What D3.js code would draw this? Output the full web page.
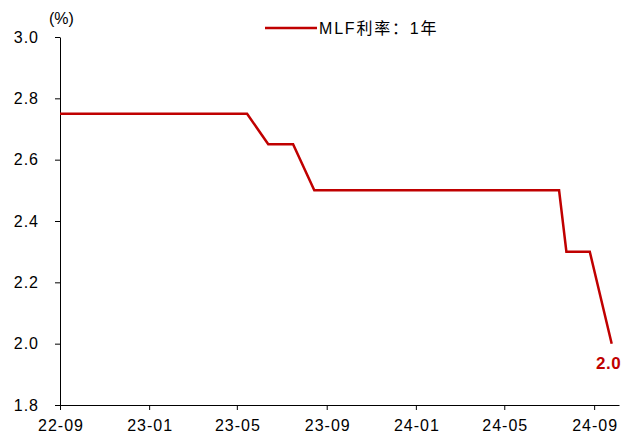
<!DOCTYPE html>
<html><head><meta charset="utf-8">
<script src="https://cdn.jsdelivr.net/npm/d3@7"></script>
<style>
body{margin:0;background:#fff;}
text{font-family:"Liberation Sans",Arial,"Noto Sans CJK SC",sans-serif;}
</style></head>
<body><svg id="c" width="632" height="437"></svg>
<script>
const dates = ["2022-09-01","2022-09-15","2022-10-17","2022-11-15","2022-12-15","2023-01-17","2023-02-15","2023-03-15","2023-04-17","2023-05-15","2023-06-13","2023-07-17","2023-08-15","2023-09-15","2023-10-16","2023-11-15","2023-12-15","2024-01-15","2024-02-18","2024-03-15","2024-04-15","2024-05-15","2024-06-17","2024-07-15","2024-07-25","2024-08-26","2024-09-25"];
const values = [2.75,2.75,2.75,2.75,2.75,2.75,2.75,2.75,2.75,2.75,2.65,2.65,2.5,2.5,2.5,2.5,2.5,2.5,2.5,2.5,2.5,2.5,2.5,2.5,2.3,2.3,2.0];
const xTickLabels = ["22-09","23-01","23-05","23-09","24-01","24-05","24-09"];
const yTicks = [1.8,2.0,2.2,2.4,2.6,2.8,3.0];
const seriesName = "MLF利率：1年";
const lastLabel = "2.0";

const parse = d3.timeParse("%Y-%m-%d");
const data = dates.map((d,i)=>({d:parse(d),v:values[i]}));
const svg = d3.select("#c");
const L=60,R=619,T=37,B=405;
const x = d3.scaleTime().domain([parse("2022-09-01"),parse("2024-10-05")]).range([L,R]);
const y = d3.scaleLinear().domain([1.8,3.0]).range([B,T]);
const red="#c00000";

const tickDates = xTickLabels.map(s=>d3.timeParse("%y-%m")(s));
const xAxis = d3.axisBottom(x).tickValues(tickDates).tickFormat(d3.timeFormat("%y-%m")).tickSizeInner(5).tickSizeOuter(0).tickPadding(10);
const gx = svg.append("g").attr("transform",`translate(0,${B})`).call(xAxis);
const yAxis = d3.axisLeft(y).tickValues(yTicks).tickFormat(d3.format(".1f")).tickSizeInner(5).tickSizeOuter(0).tickPadding(16);
const gy = svg.append("g").attr("transform",`translate(${L},0)`).call(yAxis);
[gx,gy].forEach(g=>{
  g.selectAll("path,line").attr("stroke","#000").attr("stroke-width",1);
  g.selectAll("text").attr("fill","#000").style("font-size","16px").style("letter-spacing","1px");
});
gx.selectAll("text").attr("dx","0.5px");

svg.append("path").datum(data)
  .attr("fill","none").attr("stroke",red).attr("stroke-width",2.5).attr("stroke-linejoin","miter")
  .attr("d",d3.line().x(d=>x(d.d)).y(d=>y(d.v)));

const last = data[data.length-1];
svg.append("text").attr("x",x(last.d)-3).attr("y",y(last.v)+25).attr("text-anchor","middle")
  .attr("fill",red).style("font-size","17px").style("font-weight","bold").style("letter-spacing","0.5px").text(lastLabel);

svg.append("text").attr("x",49).attr("y",24).style("font-size","16px").text("(%)");

svg.append("line").attr("x1",265).attr("x2",317).attr("y1",28).attr("y2",28).attr("stroke",red).attr("stroke-width",2.5);
svg.append("text").attr("x",319).attr("y",34).style("font-size","16px").style("letter-spacing","1.8px").text(seriesName);
</script></body></html>
